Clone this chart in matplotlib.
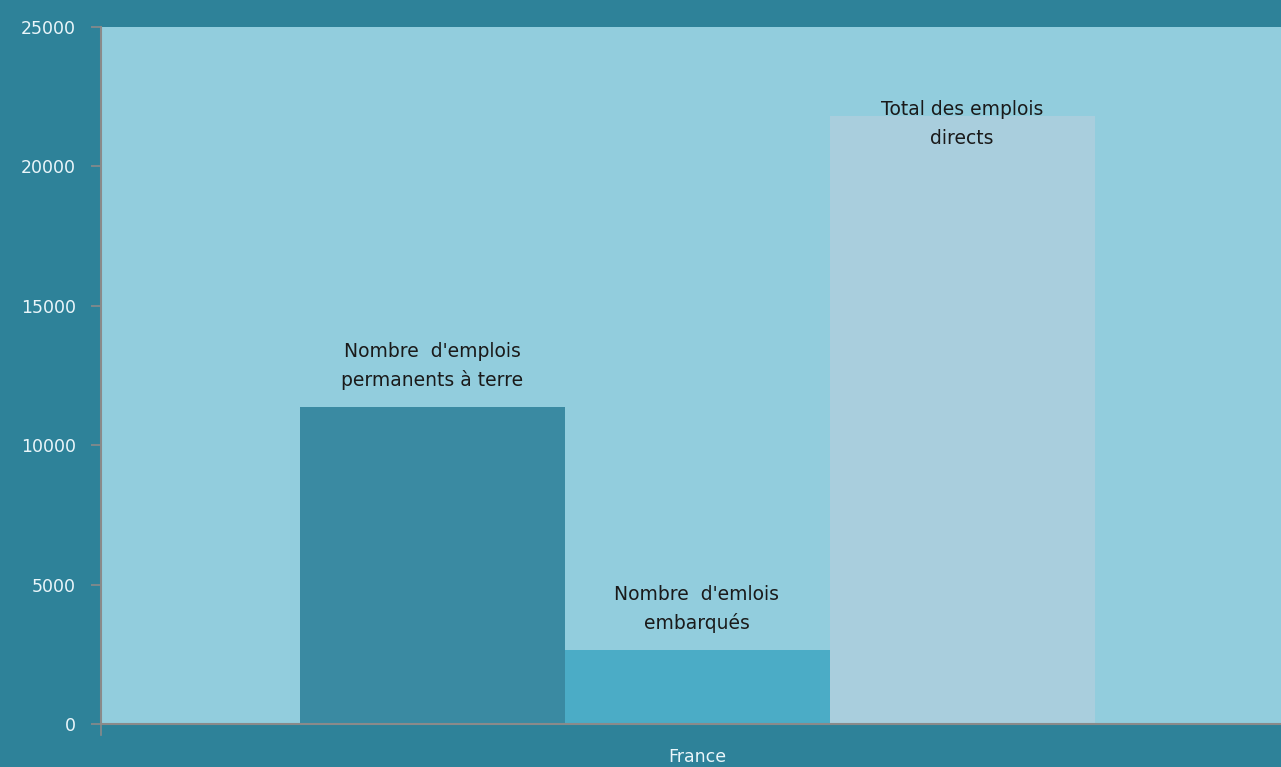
import matplotlib
matplotlib.use("Agg")
import matplotlib.pyplot as plt

categories = ["France"]
series_names = ["Nombre  d'emplois\npermanents à terre",
                "Nombre  d'emlois\nembarqués",
                "Total des emplois\ndirects"]
series_values = [11370, 2650, 21800]
yticks = [0, 5000, 10000, 15000, 20000, 25000]

bar_colors = ["#3A8AA2", "#4BACC6", "#A9CEDD"]
fig_bg = "#2E8299"
ax_bg = "#92CDDD"

plt.rcParams['font.family'] = ['DejaVu Sans']

fig = plt.figure(figsize=(12.81, 7.67), dpi=100, facecolor=fig_bg)
W, H = 1281, 767
left, right, top, bottom = 101, 1281, 27, 724
ax = fig.add_axes([left / W, 1 - bottom / H, (right - left) / W, (bottom - top) / H])
ax.set_facecolor(ax_bg)

px_per_unit = 1192.0
width = 265 / px_per_unit
offsets = [-width, 0, width]
for i, (name, val, col) in enumerate(zip(series_names, series_values, bar_colors)):
    x = offsets[i]
    ax.bar(x, val, width=width, color=col, linewidth=0, zorder=2)
    if i < 2:
        ax.annotate(name, (x, val), xytext=(0, 12.5), textcoords='offset points',
                    ha='center', va='bottom', fontsize=13.5, color='#1A1A1A',
                    linespacing=1.55)
    else:
        ax.annotate(name, (x, val), xytext=(0, 12), textcoords='offset points',
                    ha='center', va='top', fontsize=13.5, color='#1A1A1A',
                    linespacing=1.7)

ax.set_xlim(-0.5, -0.5 + (right - left) / px_per_unit)
ax.set_ylim(0, 25000)
ax.set_yticks(yticks)
ax.set_yticklabels([str(v) for v in yticks], color='#EAF6FA', fontsize=12.5)
ax.set_xticks([0])
ax.set_xticklabels(categories, color='#EAF6FA', fontsize=12.5)
ax.tick_params(axis='y', length=7, color='#8A8A8A', width=1.2, pad=11)
ax.tick_params(axis='x', length=0, pad=17)
# small category tick at the left end of the x axis
ax.plot([-0.5, -0.5], [0, -400], color='#8A8A8A', lw=1.2, clip_on=False)

for s in ['top', 'right']:
    ax.spines[s].set_visible(False)
for s in ['left', 'bottom']:
    ax.spines[s].set_color('#8A8A8A')
    ax.spines[s].set_linewidth(1.5)

fig.savefig("out.png", dpi=100, facecolor=fig_bg)
